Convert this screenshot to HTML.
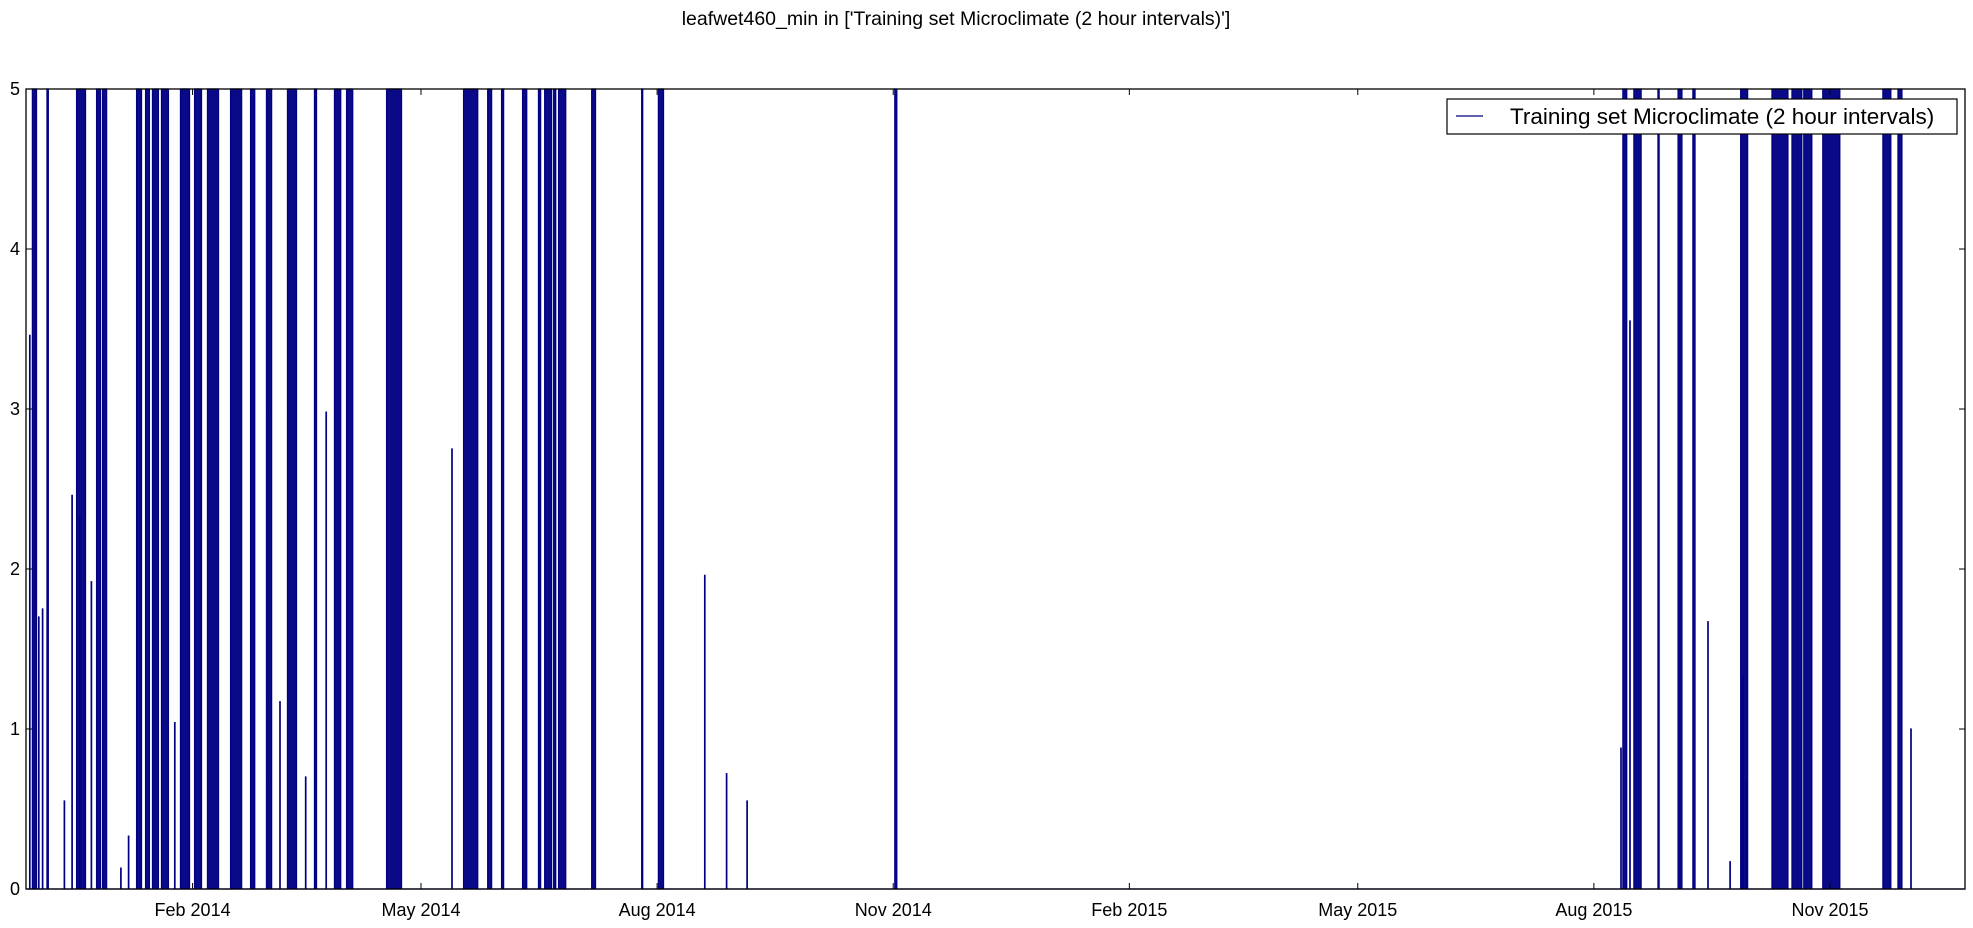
<!DOCTYPE html>
<html><head><meta charset="utf-8"><style>
body{margin:0;background:#fff;}
svg text{font-family:"Liberation Sans","DejaVu Sans",sans-serif;}
</style></head><body>
<svg id="chart" width="1973" height="923" xmlns="http://www.w3.org/2000/svg">
<rect width="1973" height="923" fill="#fff"/>
<text x="956" y="25" font-size="19.5" text-anchor="middle">leafwet460_min in ['Training set Microclimate (2 hour intervals)']</text>
<g id="plot"></g>
<g id="axes"></g>
<g>
<rect x="1447" y="99" width="510" height="35" fill="#fff" stroke="#000" stroke-width="1.2"/>
<line x1="1456" y1="116" x2="1483" y2="116" stroke="#000080" stroke-width="1.2"/>
<text x="1510" y="124" font-size="22.5">Training set Microclimate (2 hour intervals)</text>
</g>
</svg>
<script>
// days relative to 1 Feb 2014
const blockStarts=[-62.4,-56.7,-45.2,-37.4,-35.1,-21.8,-18.3,-15.6,-12.1,-4.7,0.8,5.8,14.8,22.6,28.8,37,47.5,55.3,60,75.6,105.6,115,120.4,128.6,134.8,137.2,140.7,142.6,155.5,175,181.5,273.6,557.3,561.6,571,578.8,584.6,603.2,615.4,623.2,627.8,635.2,658.6,664.5];
const blockEnds=[-60.8,-56.2,-41.7,-35.9,-33.5,-19.9,-16.8,-13.3,-9.4,-1.2,3.5,10.1,19.1,24.2,30.8,40.5,48.3,57.7,62.4,81.4,111.1,116.5,121.2,130.2,135.6,139.9,141.5,145.4,157,175.4,183.5,274.4,558.8,564.4,571.4,580.3,585.4,605.9,621.6,627,630.9,641.8,661.7,666];
const blockValues=[5,5,5,5,5,5,5,5,5,5,5,5,5,5,5,5,5,5,5,5,5,5,5,5,5,5,5,5,5,5,5,5,5,5,5,5,5,5,5,5,5,5,5,5];
const spikeDays=[-63.5,-60,-58.5,-50,-47,-44,-39.5,-28,-25,-7,34,44,52,101,199.5,208,216,590.4,599,604,605.3,669.5,560,556.5];
const spikeValues=[3.46,1.7,1.75,0.55,2.46,2.33,1.92,0.13,0.33,1.04,1.17,0.7,2.98,2.75,1.96,0.72,0.55,1.67,0.17,1.33,0.67,1.0,3.55,0.88];
const yTicks=[0,1,2,3,4,5];
const xTickDays=[0,89,181,273,365,454,546,638];
const xTickLabels=["Feb 2014","May 2014","Aug 2014","Nov 2014","Feb 2015","May 2015","Aug 2015","Nov 2015"];

const L=26,R=1965,T=89,B=889;
const dMin=-64.9,dMax=690.6;
const xs=d=>L+(d-dMin)/(dMax-dMin)*(R-L);
const ys=v=>B-v/5*(B-T);
const NS="http://www.w3.org/2000/svg";
const plot=document.getElementById('plot'),axes=document.getElementById('axes');

let ev=[];
for(let i=0;i<blockStarts.length;i++)ev.push([blockStarts[i],blockEnds[i],blockValues[i]]);
for(let i=0;i<spikeDays.length;i++)ev.push([spikeDays[i],spikeDays[i]+0.15,spikeValues[i]]);
ev.sort((a,b)=>a[0]-b[0]);
let d="M"+xs(dMin)+","+ys(0);
ev.forEach(e=>{d+=" L"+xs(e[0]).toFixed(1)+","+ys(0)+" L"+xs(e[0]).toFixed(1)+","+ys(e[2]).toFixed(1)+" L"+xs(e[1]).toFixed(1)+","+ys(e[2]).toFixed(1)+" L"+xs(e[1]).toFixed(1)+","+ys(0);});
d+=" L"+xs(dMax)+","+ys(0);
const p=document.createElementNS(NS,'path');
p.setAttribute('d',d+" Z");
p.setAttribute('fill','#0a0a88');
p.setAttribute('stroke','#000080');
p.setAttribute('stroke-width','1.3');


plot.appendChild(p);

function mk(tag,attrs){const e=document.createElementNS(NS,tag);for(const k in attrs)e.setAttribute(k,attrs[k]);return e;}
const frame=mk('rect',{x:L,y:T,width:R-L,height:B-T,fill:'none',stroke:'#000','stroke-width':1.3});


axes.appendChild(frame);
yTicks.forEach(v=>{
  const y=ys(v);
  axes.appendChild(mk('line',{x1:L,y1:y,x2:L+6,y2:y,stroke:'#000'}));
  axes.appendChild(mk('line',{x1:R,y1:y,x2:R-6,y2:y,stroke:'#000'}));
  const t=mk('text',{x:L-6,y:y+6,'font-size':18,'text-anchor':'end'});
  t.textContent=v;
  
  
  axes.appendChild(t);
});
xTickDays.forEach((dd,i)=>{
  const x=xs(dd);
  axes.appendChild(mk('line',{x1:x,y1:B,x2:x,y2:B-6,stroke:'#000'}));
  axes.appendChild(mk('line',{x1:x,y1:T,x2:x,y2:T+6,stroke:'#000'}));
  const t=mk('text',{x:x,y:B+27,'font-size':18,'text-anchor':'middle'});
  t.textContent=xTickLabels[i];
  
  
  axes.appendChild(t);
});
</script>
</body></html>
